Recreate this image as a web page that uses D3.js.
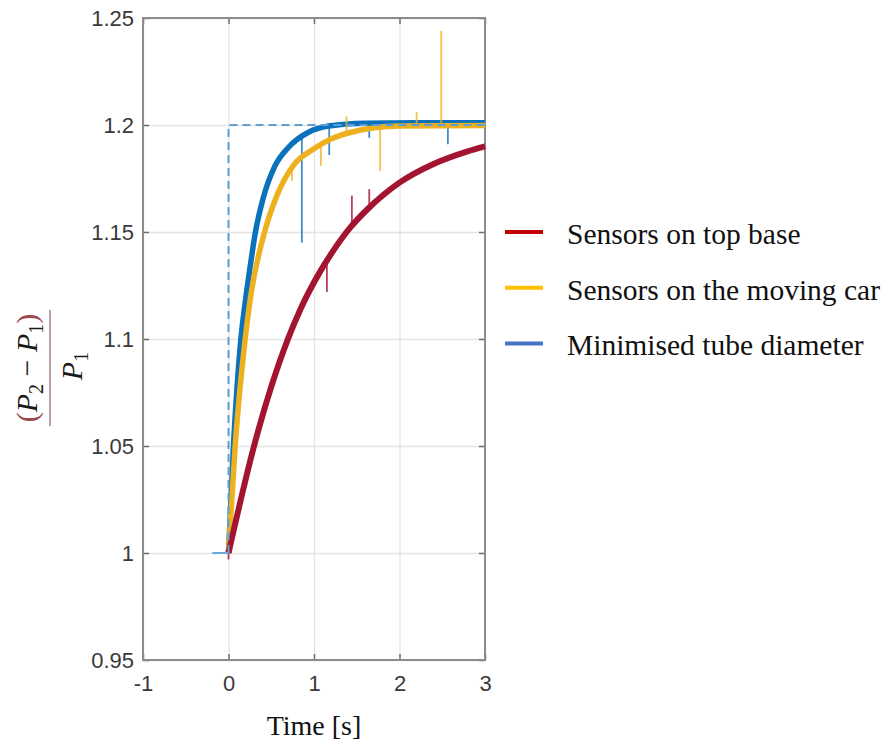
<!DOCTYPE html>
<html>
<head>
<meta charset="utf-8">
<title>Pressure ratio response</title>
<script src="https://cdn.jsdelivr.net/npm/d3@7/dist/d3.min.js"></script>
<style>
    body { margin: 0; background: #fff; }
    svg  { display: block; }
</style>
</head>
<body>
<svg id="chart" width="887" height="744"></svg>
<script>
/* jshint esversion: 6 */

// Axis ticks
const xTicks = [-1, 0, 1, 2, 3];
const yTicks = [0.95, 1, 1.05, 1.1, 1.15, 1.2, 1.25];

// Series, as [time in s, (P2 - P1) / P1]
const topBase = [
    [0, 1.000], [0.312, 1.052], [0.690, 1.0995], [0.839, 1.1137], [1.073, 1.1316],
    [1.228, 1.1414], [1.423, 1.152], [1.619, 1.1604], [1.813, 1.1674], [2.008, 1.1733],
    [2.398, 1.1818], [2.788, 1.1876], [3.0, 1.190]
];
const movingCar = [
    [0, 1.000], [0.078, 1.050], [0.195, 1.100], [0.254, 1.1185], [0.429, 1.151],
    [0.566, 1.167], [0.757, 1.181], [0.99, 1.1887], [1.2, 1.1935], [1.424, 1.1965],
    [2.0, 1.1995], [3.0, 1.1998]
];
const minTube = [
    [0, 1.000], [0.058, 1.050], [0.145, 1.100], [0.2, 1.1185], [0.254, 1.134],
    [0.315, 1.150], [0.40, 1.165], [0.545, 1.181], [0.70, 1.1895], [0.93, 1.1965],
    [1.17, 1.1995], [1.6, 1.2008], [2.2, 1.201], [3.0, 1.201]
];

// Ideal step input (dashed) and the flat lead-in before t = 0
const stepInput = [[0, 1], [0, 1.2], [3, 1.2]];
const leadIn    = [[-0.19, 1], [0, 1]];

// Single-sample spikes, as [time, band value, spike tip]
const topBaseSpikes   = [[0, 1.0, 0.997], [1.151, 1.136, 1.122], [1.443, 1.153, 1.167], [1.646, 1.161, 1.170]];
const movingCarSpikes = [[0.742, 1.180, 1.174], [1.081, 1.191, 1.181], [1.38, 1.196, 1.204],
                         [1.774, 1.198, 1.1785], [2.2, 1.200, 1.206], [2.488, 1.200, 1.244]];
const minTubeSpikes   = [[0.858, 1.195, 1.145], [1.178, 1.199, 1.186], [1.646, 1.200, 1.194], [2.566, 1.200, 1.191]];

// Legend
const legendLabels = ["Sensors on top base", "Sensors on the moving car", "Minimised tube diameter"];

/**
 *
 */
class ResponseChart
{
    /**
     * Constructor.
     *
     * @param {String} selector
     */
    constructor(selector)
    {
        this.svg    = d3.select(selector);
        this.margin = {left: 143, right: 485, top: 18, bottom: 660};

        this.x = d3.scaleLinear()
            .domain([-1, 3])
            .range([this.margin.left, this.margin.right]);

        this.y = d3.scaleLinear()
            .domain([0.95, 1.25])
            .range([this.margin.bottom, this.margin.top]);
    }

    /**
     * Line generator.
     *
     * @param {Function} curve
     *
     * @return {Function}
     */
    lineGen(curve)
    {
        return d3.line()
            .x(d => this.x(d[0]))
            .y(d => this.y(d[1]))
            .curve(curve);
    }

    /**
     * Draws grid, box and tick labels.
     */
    drawAxes()
    {
        let m = this.margin;
        let w = m.right - m.left;
        let h = m.bottom - m.top;

        // Grid
        this.svg.append("g")
            .attr("class", "grid")
            .attr("transform", "translate(0," + m.top + ")")
            .call(d3.axisBottom(this.x).tickValues(xTicks).tickSize(h).tickFormat(""));

        this.svg.append("g")
            .attr("class", "grid")
            .attr("transform", "translate(" + m.left + ",0)")
            .call(d3.axisRight(this.y).tickValues(yTicks).tickSize(w).tickFormat(""));

        this.svg.selectAll("g.grid .domain").remove();
        this.svg.selectAll("g.grid line")
            .attr("stroke", "#e4e4e4")
            .attr("stroke-width", 1.3);

        // Ticks and labels
        let tickStyle = g => {
            g.select(".domain").remove();
            g.selectAll("line").attr("stroke", "#6e6e6e").attr("stroke-width", 1.5);
            g.selectAll("text")
                .attr("fill", "#3a3a3a")
                .style("font-family", "'Liberation Sans', Arial, sans-serif")
                .style("font-size", "22px");
        };

        this.svg.append("g")
            .attr("transform", "translate(0," + m.bottom + ")")
            .call(d3.axisBottom(this.x).tickValues(xTicks).tickSizeInner(-6).tickSizeOuter(0)
                .tickPadding(15).tickFormat(d => String(d)))
            .call(tickStyle);

        this.svg.append("g")
            .attr("transform", "translate(0," + m.top + ")")
            .call(d3.axisTop(this.x).tickValues(xTicks).tickSizeInner(-6).tickSizeOuter(0).tickFormat(""))
            .call(tickStyle);

        this.svg.append("g")
            .attr("transform", "translate(" + m.left + ",0)")
            .call(d3.axisLeft(this.y).tickValues(yTicks).tickSizeInner(-6).tickSizeOuter(0)
                .tickPadding(9).tickFormat(d => String(d)))
            .call(tickStyle);

        this.svg.append("g")
            .attr("transform", "translate(" + m.right + ",0)")
            .call(d3.axisRight(this.y).tickValues(yTicks).tickSizeInner(-6).tickSizeOuter(0).tickFormat(""))
            .call(tickStyle);

        // Box
        this.svg.append("rect")
            .attr("x", m.left)
            .attr("y", m.top)
            .attr("width", w)
            .attr("height", h)
            .attr("fill", "none")
            .attr("stroke", "#8c8c8c")
            .attr("stroke-width", 2);
    }

    /**
     * Draws one measured series with its spikes.
     *
     * @param {Array}  data
     * @param {Array}  spikes
     * @param {String} color
     * @param {Number} width
     */
    drawSeries(data, spikes, color, width)
    {
        let self = this;
        let g    = this.svg.append("g").attr("class", "series");

        g.selectAll("line.spike")
            .data(spikes)
            .enter()
            .append("line")
            .attr("class", "spike")
            .attr("x1", d => self.x(d[0]))
            .attr("x2", d => self.x(d[0]))
            .attr("y1", d => self.y(d[1]))
            .attr("y2", d => self.y(d[2]))
            .attr("stroke", color)
            .attr("stroke-opacity", 0.8)
            .attr("stroke-width", 1.8);

        g.append("path")
            .datum(data)
            .attr("d", this.lineGen(d3.curveMonotoneX))
            .attr("fill", "none")
            .attr("stroke", color)
            .attr("stroke-width", width)
            .attr("stroke-linejoin", "round");
    }

    /**
     * Draws the ideal step input.
     */
    drawStep()
    {
        let line = this.lineGen(d3.curveLinear);

        this.svg.append("path")
            .datum(leadIn)
            .attr("d", line)
            .attr("fill", "none")
            .attr("stroke", "#6aaad8")
            .attr("stroke-width", 2);

        this.svg.append("path")
            .datum(stepInput)
            .attr("d", line)
            .attr("fill", "none")
            .attr("stroke", "#5f9fcf")
            .attr("stroke-width", 2)
            .attr("stroke-dasharray", "8,5");
    }

    /**
     * Axis titles: time below, pressure ratio fraction on the left.
     */
    drawTitles()
    {
        let serif = "'Liberation Serif', 'Times New Roman', serif";

        this.svg.append("text")
            .attr("x", this.x(1))
            .attr("y", 735)
            .attr("text-anchor", "middle")
            .style("font-family", serif)
            .style("font-size", "28px")
            .attr("fill", "#111")
            .text("Time [s]");

        let frac = this.svg.append("g")
            .attr("transform", "translate(50,368) rotate(-90)")
            .style("font-family", serif)
            .style("font-size", "30px");

        let num = frac.append("text")
            .attr("x", 0)
            .attr("y", -13)
            .attr("text-anchor", "middle")
            .attr("fill", "#1a1a1a");

        num.append("tspan").attr("fill", "#9b4a50").text("(");
        num.append("tspan").style("font-style", "italic").text("P");
        num.append("tspan").attr("dy", 6).style("font-size", "20px").text("2");
        num.append("tspan").attr("dy", -6).text(" \u2212 ");
        num.append("tspan").style("font-style", "italic").text("P");
        num.append("tspan").attr("dy", 6).style("font-size", "20px").text("1");
        num.append("tspan").attr("dy", -6).attr("fill", "#9b4a50").text(")");

        frac.append("line")
            .attr("x1", -58)
            .attr("x2", 58)
            .attr("y1", 0)
            .attr("y2", 0)
            .attr("stroke", "#a88a8c")
            .attr("stroke-width", 1.6);

        let den = frac.append("text")
            .attr("x", 2)
            .attr("y", 32)
            .attr("text-anchor", "middle")
            .attr("fill", "#1a1a1a");

        den.append("tspan").style("font-style", "italic").text("P");
        den.append("tspan").attr("dy", 6).style("font-size", "20px").text("1");
    }

    /**
     * Legend on the right.
     *
     * @param {Array} colors
     */
    drawLegend(colors)
    {
        let legend = this.svg.append("g")
            .attr("class", "legend")
            .attr("transform", "translate(505,232)");

        let row = legend.selectAll("g.row")
            .data(legendLabels)
            .enter()
            .append("g")
            .attr("class", "row")
            .attr("transform", (d, i) => "translate(0," + (i * 55.7) + ")");

        row.append("line")
            .attr("x1", 0)
            .attr("x2", 38)
            .attr("stroke", (d, i) => colors[i])
            .attr("stroke-width", 4);

        row.append("text")
            .attr("x", 62)
            .attr("y", 12)
            .style("font-family", "'Liberation Serif', 'Times New Roman', serif")
            .style("font-size", "29.5px")
            .attr("fill", "#111")
            .text(d => d);
    }
}

let chart = new ResponseChart("#chart");
chart.drawAxes();
chart.drawSeries(minTube, minTubeSpikes, "#0a72bd", 5.5);
chart.drawSeries(movingCar, movingCarSpikes, "#edb120", 5.5);
chart.drawSeries(topBase, topBaseSpikes, "#a2142f", 6);
chart.drawStep();
chart.drawTitles();
chart.drawLegend(["#c00000", "#ffc000", "#4472c4"]);
</script>
</body>
</html>
